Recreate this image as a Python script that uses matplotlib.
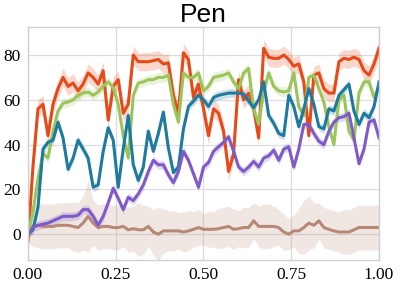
import numpy as np
import matplotlib
matplotlib.use("Agg")
import matplotlib.pyplot as plt

# training progress (fraction), shared by all runs
progress = np.linspace(0.0, 1.0, 71)

orange = [-3, 30, 56, 58, 44, 58, 65, 70, 66, 67.5, 64, 67, 72, 70, 67, 73, 51, 66, 69, 54,
          58, 80, 77, 77, 77, 77.5, 78, 76, 76.5, 62, 54, 81, 78, 61, 67, 56, 44, 56, 54, 46,
          28, 36, 69, 60, 63, 56, 43, 83, 79, 78.5, 78.5, 80, 78, 75, 76, 68, 44, 71, 72, 65,
          63, 63, 77, 78.5, 78, 79, 78, 73, 71, 76, 83]
green = [0, 10, 25, 36, 34, 46, 55, 58.5, 59, 60, 62, 63, 63.5, 62, 63.5, 66, 68, 65.5, 58, 44,
         34, 62, 67.5, 68, 69, 69, 70, 70, 71, 58, 50, 72, 70, 70, 72, 64, 66, 70, 70.5, 71,
         72, 68, 65, 72, 74, 56, 49, 63.5, 72, 66, 64, 63.5, 64, 72, 57, 53, 70, 71, 65, 59,
         48, 40, 60, 62, 46, 42, 63, 68, 68, 61, 66]
blue = [0, 2, 12, 38, 41, 42, 50, 43, 29, 34, 42, 38, 34, 21, 22, 37, 47.5, 42, 21, 38,
        53, 31, 24, 30, 46, 37, 45, 54.5, 38.5, 27.5, 30, 47, 57, 59.5, 62, 60, 57, 61, 62, 62.5,
        63, 63, 63, 62.5, 59.5, 56.5, 60, 68, 53, 49.5, 45, 44, 62, 57, 48, 56, 65, 58, 48, 47,
        56, 55, 62, 64.5, 67, 55, 49, 54, 52, 57, 68]
purple = [0, 3, 4, 4.5, 5, 6, 7, 8, 8, 8, 8.5, 11, 11, 8, 4, 8, 14, 20.5, 16, 11,
          16.5, 15, 18, 22, 28, 33, 31, 31, 26.5, 23, 28, 37, 33, 27, 21, 30, 32, 37, 39, 41,
          43.5, 37, 30, 28, 30, 32.5, 30, 34, 35, 37.5, 33, 38, 39, 30, 38, 49, 49, 45, 41.5, 40,
          46, 50, 52, 52.5, 54, 43, 31.5, 38, 50, 51, 43]
brown = [0, 3.5, 4, 3.5, 3.5, 3.5, 4, 4, 4, 3.5, 3, 5, 8, 5, 3, 3.5, 3.5, 3, 3, 3.5,
         2, 2.5, 2, 2, 3.5, 1, 0, 1.5, 1.5, 1.5, 1.5, 1, 1.5, 2.2, 3, 2.2, 2.2, 2.2, 2.5, 3,
         3.5, 2.2, 2.5, 3, 3, 6, 3.5, 3.5, 3.5, 3.5, 3, 1, 0, 1.5, 1.5, 3, 5, 4, 6, 3,
         2.2, 1.5, 1, 1, 1, 2, 3, 3, 3, 3, 3]
brown_spread = [4, 9, 10, 10, 10, 10, 10, 10, 10, 11, 11, 12, 16, 10, 10, 10, 10, 10, 10, 9,
                10, 10, 12, 11, 9, 10, 12, 10, 9, 9, 8, 9, 9, 8, 8, 7, 8, 8, 9, 9,
                9, 9, 8, 9, 9, 8, 9, 10, 10, 9, 8, 8, 7, 7, 10, 12, 12, 10, 8, 9,
                9, 9, 9, 10, 10, 10, 10, 10, 10, 10, 10]

runs = [
    (orange, "#e64a19", 4.0),
    (green, "#9bc55a", 2.2),
    (blue, "#1f7aa0", 2.0),
    (purple, "#7e5bc8", 2.0),
]

fig, ax = plt.subplots(figsize=(3.99, 2.87), dpi=100)
fig.subplots_adjust(left=0.070, right=0.950, bottom=0.094, top=0.906)

# brown run has a much wider spread
b = np.array(brown)
s = np.array(brown_spread)
ax.fill_between(progress, b - s, b + s, color="#b88877", alpha=0.2, linewidth=0)
ax.plot(progress, b, color="#b88877", linewidth=2.2)

for vals, col, spread in runs:
    v = np.array(vals, dtype=float)
    ax.fill_between(progress, v - spread, v + spread, color=col, alpha=0.22, linewidth=0)
    ax.plot(progress, v, color=col, linewidth=2.2)

ax.set_xlim(0, 1)
ax.set_ylim(-11.5, 92.5)
ax.set_xticks([0, 0.25, 0.5, 0.75, 1.0])
ax.set_xticklabels(["0.00", "0.25", "0.50", "0.75", "1.00"])
ax.set_yticks([0, 20, 40, 60, 80])
ax.grid(True, color="#dddddd", linewidth=0.9)
ax.set_axisbelow(True)
for sp in ax.spines.values():
    sp.set_color("#d0d0d0")
    sp.set_linewidth(1.0)
ax.tick_params(length=0, pad=5)
for lab in ax.get_xticklabels() + ax.get_yticklabels():
    lab.set_fontfamily("Liberation Serif")
    lab.set_fontsize(12.5)
ax.set_title("Pen", fontsize=19, fontfamily="Liberation Sans", pad=3)

fig.savefig("out.png", dpi=100)
